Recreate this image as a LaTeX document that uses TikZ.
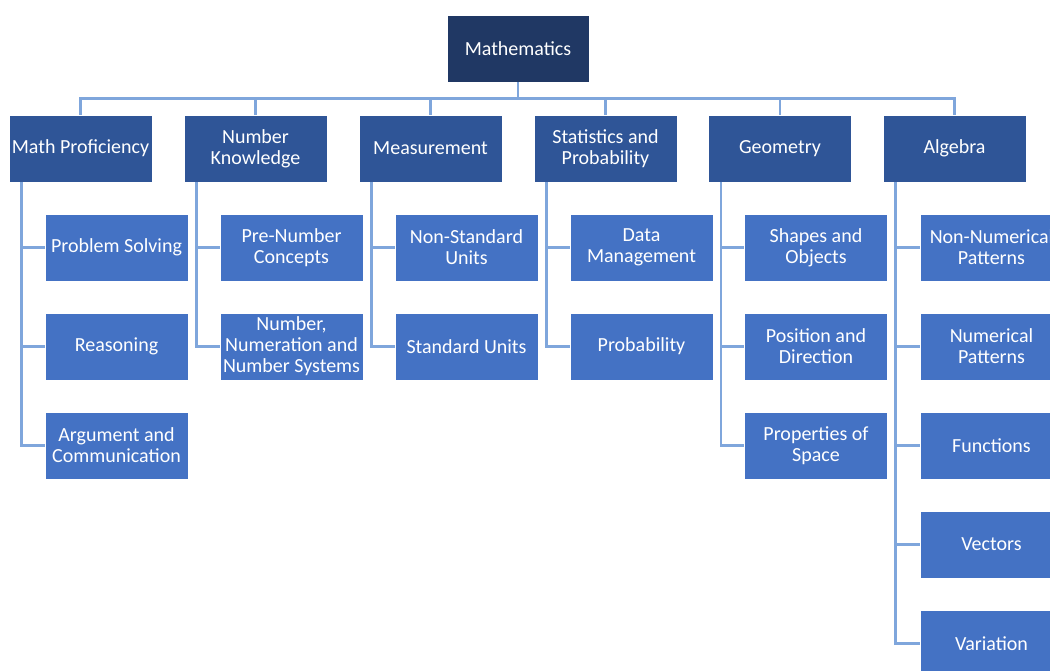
\documentclass[tikz,border=0pt]{standalone}
\usepackage{fontspec}
\setmainfont{Carlito}
\usepackage{tikz}
\usetikzlibrary{positioning}
\definecolor{navy}{HTML}{203864}
\definecolor{midblue}{HTML}{2F5597}
\definecolor{lightblue}{HTML}{4472C4}
\definecolor{wire}{HTML}{7FA6DC}
\tikzset{
  box/.style={draw=white, line width=0.4pt, text=white, align=center,
    minimum width=71.5pt, minimum height=33.5pt, inner sep=1pt,
    font=\fontsize{10}{10.5}\selectfont},
  rootbox/.style={box, fill=navy, minimum width=71pt},
  topicbox/.style={box, fill=midblue},
  subbox/.style={box, fill=lightblue},
  link/.style={draw=wire, line width=1.2pt}
}
\begin{document}
\begin{tikzpicture}[x=0.5pt,y=-0.5pt]
\useasboundingbox (0,0) rectangle (1050,670);
\node[rootbox] (math) at (518,48.5) {Mathematics};
% topics
\node[topicbox] (prof) at (80.5,148.5) {Math Proficiency};
\node[topicbox] (know) at (255.5,148.5) {Number\\Knowledge};
\node[topicbox] (meas) at (430.5,148.5) {Measurement};
\node[topicbox] (stat) at (605.5,148.5) {Statistics and\\Probability};
\node[topicbox] (geom) at (780,148.5) {Geometry};
\node[topicbox] (alg) at (954.5,148.5) {Algebra};
% sub topics
\node[subbox] (solve) at (116.5,247.5) {Problem Solving};
\node[subbox] (reason) at (116.5,346.5) {Reasoning};
\node[subbox] (argue) at (116.5,445.5) {Argument and\\Communication};
\node[subbox] (prenum) at (291.5,247.5) {Pre-Number\\Concepts};
\node[subbox] (numsys) at (291.5,346.5) {Number,\\Numeration and\\Number Systems};
\node[subbox] (nonstd) at (466.5,247.5) {Non-Standard\\Units};
\node[subbox] (std) at (466.5,346.5) {Standard Units};
\node[subbox] (data) at (641.5,247.5) {Data\\Management};
\node[subbox] (prob) at (641.5,346.5) {Probability};
\node[subbox] (shape) at (816,247.5) {Shapes and\\Objects};
\node[subbox] (pos) at (816,346.5) {Position and\\Direction};
\node[subbox] (space) at (816,445.5) {Properties of\\Space};
\node[subbox] (nonnum) at (991.5,247.5) {Non-Numerical\\Patterns};
\node[subbox] (numpat) at (991.5,346.5) {Numerical\\Patterns};
\node[subbox] (func) at (991.5,445.5) {Functions};
\node[subbox] (vec) at (991.5,544.5) {Vectors};
\node[subbox] (var) at (991.5,643.5) {Variation};
% connectors
\foreach \t in {prof,know,meas,stat,geom,alg}
  \draw[link] (math.south) -- ++(0,16) -| (\t.north);
\foreach \p/\c in {prof/solve,prof/reason,prof/argue,know/prenum,know/numsys,
    meas/nonstd,meas/std,stat/data,stat/prob,geom/shape,geom/pos,geom/space,
    alg/nonnum,alg/numpat,alg/func,alg/vec,alg/var}
  \draw[link] ([xshift=6.5pt]\p.south west) |- (\c.west);
\end{tikzpicture}
\end{document}
